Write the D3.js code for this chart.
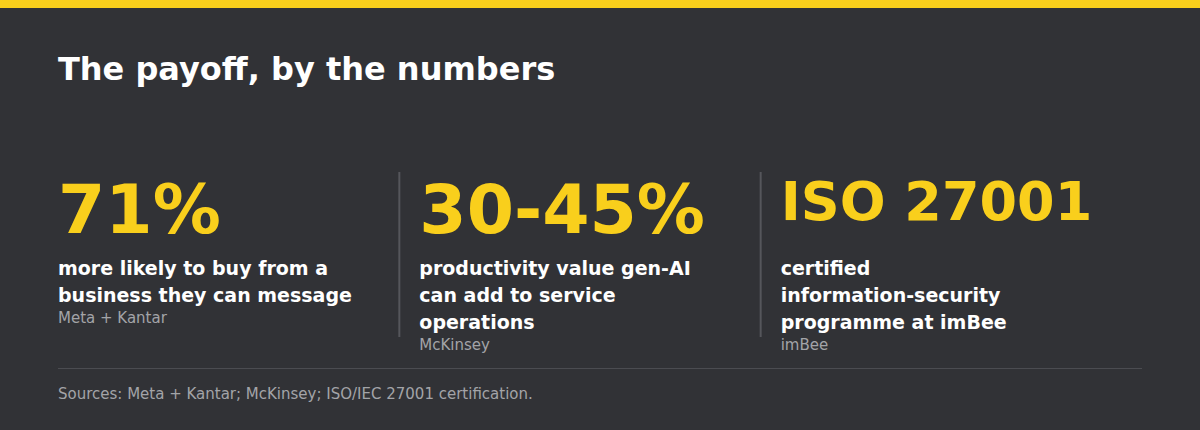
<!DOCTYPE html>
<html><head><meta charset="utf-8">
<script src="https://cdn.jsdelivr.net/npm/d3@7"></script>
<style>body{margin:0;background:#313236}</style>
</head><body><div id="chart"></div>
<script>
const title = "The payoff, by the numbers";
const values = ["71%", "30-45%", "ISO 27001"];
const valueSizes = [68, 68, 54];
const descriptions = [
  ["more likely to buy from a", "business they can message"],
  ["productivity value gen-AI", "can add to service", "operations"],
  ["certified", "information-security", "programme at imBee"]
];
const sources = ["Meta + Kantar", "McKinsey", "imBee"];
const footer = "Sources: Meta + Kantar; McKinsey; ISO/IEC 27001 certification.";

const W = 1200, H = 430, yellow = "#f9cf1c";
const svg = d3.select("#chart").append("svg").attr("width", W).attr("height", H)
  .style("font-family", "DejaVu Sans, sans-serif");
svg.append("rect").attr("width", W).attr("height", H).attr("fill", "#313236");
svg.append("rect").attr("width", W).attr("height", 8).attr("fill", yellow);
svg.append("text").attr("x", 58).attr("y", 80).attr("fill", "#fff")
  .attr("font-size", 32).attr("font-weight", "bold").text(title);

const x = d3.scaleBand().domain(d3.range(values.length)).range([58, 1142]);
const cols = svg.selectAll(".col").data(values).join("g")
  .attr("transform", (d, i) => `translate(${x(i)},0)`);
cols.filter((d, i) => i > 0).append("line")
  .attr("x1", -20).attr("x2", -20).attr("y1", 172).attr("y2", 337)
  .attr("stroke", "#55565b").attr("stroke-width", 2);
cols.append("text").attr("y", (d, i) => valueSizes[i] > 60 ? 233 : 220)
  .attr("fill", yellow).attr("font-weight", "bold")
  .attr("font-size", (d, i) => valueSizes[i]).text(d => d);
cols.each(function(d, i) {
  const g = d3.select(this);
  descriptions[i].forEach((line, j) => {
    g.append("text").attr("y", 275 + j * 27).attr("fill", "#fff")
      .attr("font-size", 19).attr("font-weight", "bold").text(line);
  });
  g.append("text").attr("y", 275 + descriptions[i].length * 27 - 6)
    .attr("fill", "#a3a4a8").attr("font-size", 15).text(sources[i]);
});
svg.append("line").attr("x1", 58).attr("x2", 1142).attr("y1", 368.5).attr("y2", 368.5)
  .attr("stroke", "#4b4c51");
svg.append("text").attr("x", 58).attr("y", 399).attr("fill", "#a3a4a8")
  .attr("font-size", 15).text(footer);
</script></body></html>
